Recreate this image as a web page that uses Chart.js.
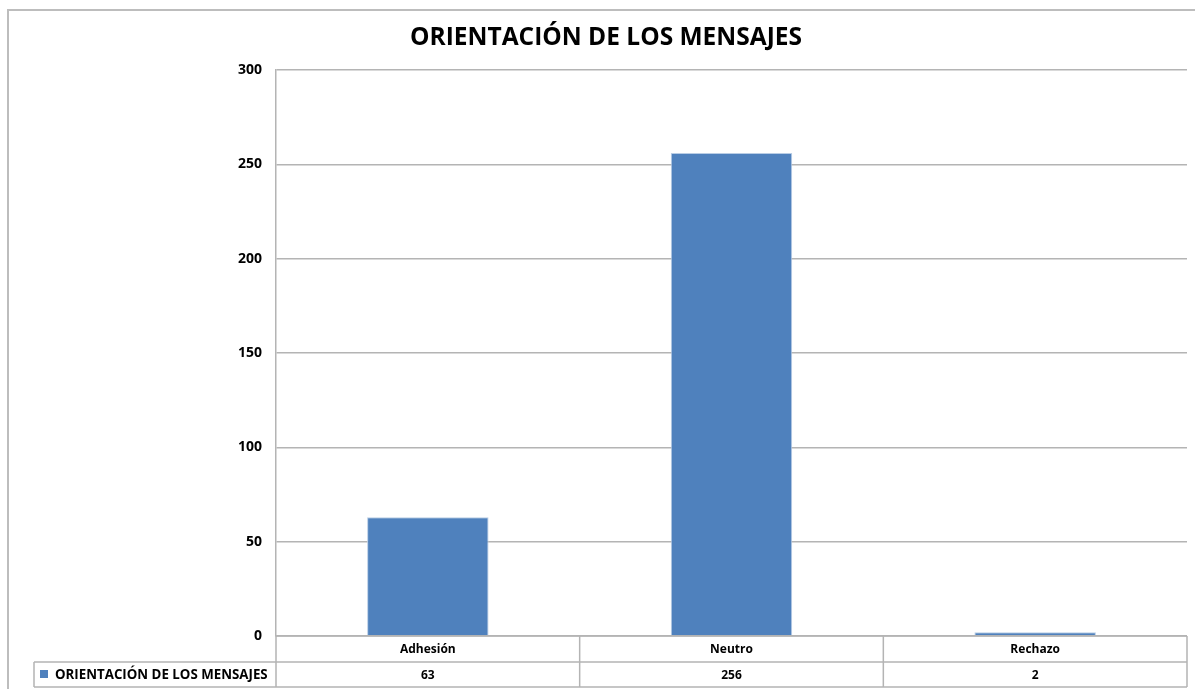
<!DOCTYPE html>
<html>
<head>
<meta charset="utf-8">
<script src="https://cdn.jsdelivr.net/npm/chart.js@4/dist/chart.umd.min.js"></script>
<style>
  html, body { margin: 0; padding: 0; background: #fff; }
  #wrap { width: 1195px; height: 689px; }
</style>
</head>
<body>
<div id="wrap"><canvas id="myChart" width="1195" height="689"></canvas></div>
<script>
const title = "ORIENTACIÓN DE LOS MENSAJES";
const labels = ["Adhesión", "Neutro", "Rechazo"];
const values = [63, 256, 2];
const yTicks = [0, 50, 100, 150, 200, 250, 300];

const FONT = "'Open Sans', sans-serif";
const barColor = "#4F81BD";
const lineColor = "#b4b4b4";

// frame, title and the Excel style data table under the axis
const tablePlugin = {
  id: "dataTable",
  beforeDraw(chart) {
    const c = chart.ctx;
    c.save();
    c.strokeStyle = "#bdbdbd";
    c.lineWidth = 2;
    c.beginPath();
    c.moveTo(8, 689);
    c.lineTo(8, 10);
    c.lineTo(1195, 10);
    c.stroke();

    c.fillStyle = "#000";
    c.textAlign = "center";
    c.textBaseline = "middle";
    c.font = "bold 24.5px " + FONT;
    c.fillText(title, 606, 38);
    c.restore();
  },
  afterDraw(chart) {
    const c = chart.ctx;
    const x = chart.scales.x;
    const area = chart.chartArea;
    const row1 = area.bottom, row2 = row1 + 26, row3 = row2 + 25;
    const legendLeft = 34;
    const step = (area.right - area.left) / labels.length;

    c.save();
    c.strokeStyle = lineColor;
    c.lineWidth = 1.5;
    c.beginPath();
    c.moveTo(area.left, row1); c.lineTo(area.right, row1);
    c.moveTo(legendLeft, row2); c.lineTo(area.right, row2);
    c.moveTo(legendLeft, row3); c.lineTo(area.right, row3);
    c.moveTo(legendLeft, row2); c.lineTo(legendLeft, row3);
    for (let i = 0; i <= labels.length; i++) {
      const px = area.left + i * step;
      c.moveTo(px, row1); c.lineTo(px, row3);
    }
    c.stroke();

    c.fillStyle = "#000";
    c.textAlign = "center";
    c.textBaseline = "middle";
    c.font = "bold 12px " + FONT;
    labels.forEach((l, i) => {
      c.fillText(l, x.getPixelForValue(i), (row1 + row2) / 2 + 1);
    });
    values.forEach((v, i) => {
      c.fillText(String(v), x.getPixelForValue(i), (row2 + row3) / 2 + 1);
    });

    c.fillStyle = barColor;
    c.fillRect(40, row2 + 8, 8, 8);
    c.fillStyle = "#000";
    c.textAlign = "left";
    c.font = "bold 13.3px " + FONT;
    c.fillText(chart.data.datasets[0].label, 55, (row2 + row3) / 2 + 1);
    c.restore();
  }
};

const ctx = document.querySelector("#myChart").getContext("2d");

const myChart = new Chart(ctx, {
  type: "bar",
  data: {
    labels,
    datasets: [
      {
        label: title,
        data: values,
        backgroundColor: barColor,
        borderColor: "#b9cde5",
        borderWidth: 1,
        barPercentage: 0.4,
        categoryPercentage: 1,
      },
    ],
  },
  options: {
    responsive: false,
    animation: false,
    layout: { padding: { left: 0, right: 8, top: 70, bottom: 0 } },
    plugins: {
      legend: { display: false },
      tooltip: { enabled: false },
      title: { display: false },
    },
    scales: {
      x: {
        grid: { display: false },
        border: { display: false },
        ticks: { display: false },
        afterFit: (scale) => { scale.height = 53; },
      },
      y: {
        min: 0,
        max: 300,
        afterBuildTicks: (scale) => {
          scale.ticks = yTicks.map((v) => ({ value: v }));
        },
        grid: { color: lineColor, lineWidth: 1.5, drawTicks: false },
        border: { color: lineColor, width: 1.5 },
        ticks: {
          color: "#000",
          padding: 14,
          font: { family: FONT, size: 14, weight: "bold" },
        },
        afterFit: (scale) => { scale.width = 276; },
      },
    },
  },
  plugins: [tablePlugin],
});
</script>
</body>
</html>
